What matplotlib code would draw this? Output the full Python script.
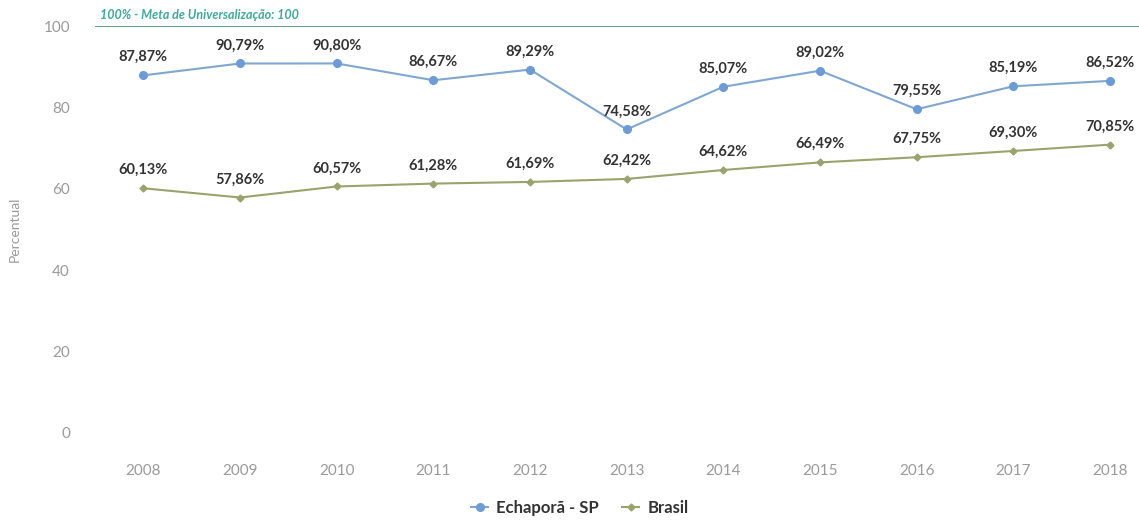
import matplotlib
matplotlib.use("Agg")
import matplotlib.pyplot as plt
from matplotlib.lines import Line2D

plt.rcParams["font.family"] = ["Lato", "DejaVu Sans"]

# --- dados ---
anos = ["2008", "2009", "2010", "2011", "2012", "2013", "2014", "2015", "2016", "2017", "2018"]
echapora = [87.87, 90.79, 90.80, 86.67, 89.29, 74.58, 85.07, 89.02, 79.55, 85.19, 86.52]
brasil = [60.13, 57.86, 60.57, 61.28, 61.69, 62.42, 64.62, 66.49, 67.75, 69.30, 70.85]
meta = 100
yticks = [0, 20, 40, 60, 80, 100]

COR_ECH = "#7fa7cf"
COR_MK_ECH = "#6c9bd6"
COR_BR = "#9aa36c"
COR_META = "#4f9a8e"
COR_TXT = "#333333"
COR_TICK = "#9a9a9a"


def fmt(v):
    return f"{v:.2f}".replace(".", ",") + "%"


fig = plt.figure(figsize=(11.39, 5.24), dpi=100)
ax = fig.add_axes([95 / 1139, 91 / 524, 1044 / 1139, 407 / 524])

x = list(range(len(anos)))
ax.axhline(meta, color=COR_META, lw=1.3, zorder=1)
ax.text(-0.45, meta + 1.2, "100% - Meta de Universalização: 100", color="#3fa89c",
        fontsize=9, fontweight="bold", style="italic", va="bottom", ha="left", clip_on=False)

ax.plot(x, echapora, color=COR_ECH, lw=1.5, marker="o", ms=5.5, mfc=COR_MK_ECH, mec=COR_MK_ECH, zorder=3)
ax.plot(x, brasil, color=COR_BR, lw=1.5, marker="D", ms=3.5, mfc=COR_BR, mec=COR_BR, zorder=3)

for serie in (echapora, brasil):
    for xi, v in zip(x, serie):
        ax.annotate(fmt(v), (xi, v), xytext=(0, 8), textcoords="offset points",
                    ha="center", va="bottom", fontsize=10.5, fontweight="bold", color=COR_TXT)

ax.set_xlim(-0.5, 10.3)
ax.set_ylim(0, 100)
ax.set_xticks(x)
ax.set_xticklabels(anos)
ax.set_yticks(yticks)
ax.tick_params(axis="both", length=0, labelsize=11, labelcolor=COR_TICK)
ax.tick_params(axis="x", pad=22)
ax.tick_params(axis="y", pad=18)
for s in ax.spines.values():
    s.set_visible(False)
ax.set_ylabel("Percentual", fontsize=10, color=COR_TICK, labelpad=16)

handles = [
    Line2D([], [], color=COR_ECH, lw=1.5, marker="o", ms=5.5, mfc=COR_MK_ECH, mec=COR_MK_ECH),
    Line2D([], [], color=COR_BR, lw=1.5, marker="D", ms=3.5, mfc=COR_BR, mec=COR_BR),
]
leg = fig.legend(handles, ["Echaporã - SP", "Brasil"], loc="center", bbox_to_anchor=(580 / 1139, 1 - 508 / 524),
                 ncol=2, frameon=False, handlelength=1.0, handletextpad=0.5, columnspacing=1.4,
                 prop={"weight": "bold", "size": 12})
for t in leg.get_texts():
    t.set_color(COR_TXT)

fig.savefig("out.png", dpi=100, facecolor="white")
